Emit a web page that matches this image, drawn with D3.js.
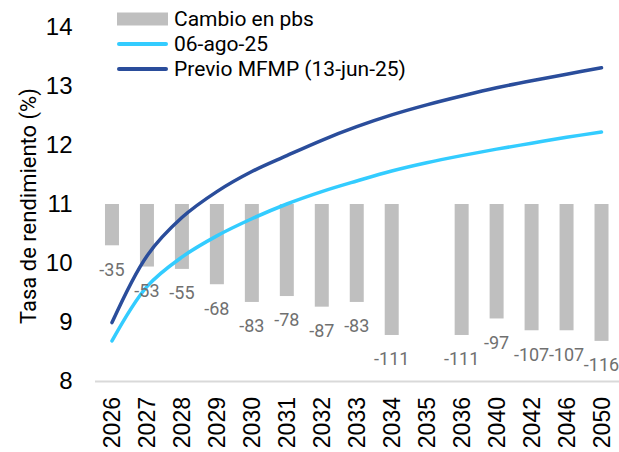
<!DOCTYPE html>
<html>
<head>
<meta charset="utf-8">
<script src="https://cdn.jsdelivr.net/npm/d3@7"></script>
<style>
  body { margin: 0; background: #fff; }
  svg { font-family: Roboto, "Noto Sans", sans-serif; }
</style>
</head>
<body>
<svg id="chart" width="619" height="452"></svg>
<script>
const years = ["2026", "2027", "2028", "2029", "2030", "2031", "2032", "2033",
  "2034", "2035", "2036", "2040", "2042", "2046", "2050"];
const cambio = [-35, -53, -55, -68, -83, -78, -87, -83, -111, null, -111, -97, -107, -107, -116];
const agosto = [8.68, 9.60, 10.10, 10.46, 10.75, 11.00, 11.21, 11.39, 11.56, 11.70, 11.82, 11.93, 12.03, 12.13, 12.22];
const previo = [8.99, 10.12, 10.77, 11.21, 11.55, 11.82, 12.08, 12.31, 12.51, 12.68, 12.83, 12.97, 13.09, 13.20, 13.31];
const yTicks = [8, 9, 10, 11, 12, 13, 14];

const svg = d3.select("#chart");
const margin = { top: 27, right: 0, bottom: 71, left: 94.5 };
const width = 619, height = 452;

const x = d3.scaleBand()
  .domain(years)
  .range([margin.left, width - margin.right])
  .paddingInner(0.6)
  .paddingOuter(0.3);

const y = d3.scaleLinear()
  .domain([8, 14])
  .range([height - margin.bottom, margin.top]);

// secondary axis for the bars (pbs), hidden
const y2 = d3.scaleLinear()
  .domain([-150, 150])
  .range([height - margin.bottom, margin.top]);

const cx = (d) => x(d) + x.bandwidth() / 2;

// y axis labels
const yAxis = (g) => g
  .call(d3.axisLeft(y).tickValues(yTicks).tickFormat(d3.format("d")).tickSize(0).tickPadding(22))
  .call((g) => g.select(".domain").remove())
  .call((g) => g.selectAll("text").attr("font-size", 24).attr("fill", "#000"));

svg.append("g")
  .attr("transform", `translate(${margin.left},0)`)
  .call(yAxis);

// bars
svg.append("g")
  .selectAll("rect")
  .data(years.map((yr, i) => ({ yr, v: cambio[i] })).filter((d) => d.v !== null))
  .join("rect")
  .attr("x", (d) => x(d.yr))
  .attr("width", x.bandwidth())
  .attr("y", y2(0))
  .attr("height", (d) => y2(d.v) - y2(0))
  .attr("fill", "#bfbfbf");

// x axis
const xAxis = (g) => g
  .call(d3.axisBottom(x).tickSize(0).tickPadding(0))
  .call((g) => g.select(".domain").attr("stroke", "#d9d9d9").attr("stroke-width", 2))
  .call((g) => g.selectAll("text")
    .attr("font-size", 23)
    .attr("fill", "#000")
    .attr("text-anchor", "end")
    .attr("dy", "0.35em")
    .attr("transform", "translate(0,16) rotate(-90)"));

svg.append("g")
  .attr("transform", `translate(0,${y(8)})`)
  .call(xAxis);

// lines
const line = d3.line()
  .x((d) => cx(d.yr))
  .y((d) => y(d.v))
  .curve(d3.curveCatmullRom.alpha(0.5));

svg.append("path")
  .datum(years.map((yr, i) => ({ yr, v: agosto[i] })))
  .attr("d", line)
  .attr("fill", "none")
  .attr("stroke", "#33ccff")
  .attr("stroke-width", 3.5)
  .attr("stroke-linecap", "round");

svg.append("path")
  .datum(years.map((yr, i) => ({ yr, v: previo[i] })))
  .attr("d", line)
  .attr("fill", "none")
  .attr("stroke", "#2a4d9b")
  .attr("stroke-width", 3.5)
  .attr("stroke-linecap", "round");

// bar labels
svg.append("g")
  .selectAll("text")
  .data(years.map((yr, i) => ({ yr, v: cambio[i] })).filter((d) => d.v !== null))
  .join("text")
  .attr("x", (d) => cx(d.yr))
  .attr("y", (d) => y2(d.v) + 24)
  .attr("dy", "0.35em")
  .attr("text-anchor", "middle")
  .attr("font-size", 18)
  .attr("fill", "#707070")
  .text((d) => d.v);

// y axis title
svg.append("text")
  .attr("transform", "translate(28,206) rotate(-90)")
  .attr("text-anchor", "middle")
  .attr("dy", "0.35em")
  .attr("font-size", 22)
  .attr("fill", "#000")
  .text("Tasa de rendimiento (%)");

// legend
const legend = [
  { label: "Cambio en pbs", type: "bar", color: "#bfbfbf" },
  { label: "06-ago-25", type: "line", color: "#33ccff" },
  { label: "Previo MFMP (13-jun-25)", type: "line", color: "#2a4d9b" },
];

const lg = svg.append("g").attr("transform", "translate(117,19)");
legend.forEach((d, i) => {
  const row = lg.append("g").attr("transform", `translate(0,${i * 25})`);
  if (d.type === "bar") {
    row.append("rect").attr("x", 0).attr("y", -6.5).attr("width", 51).attr("height", 13).attr("fill", d.color);
  } else {
    row.append("line").attr("x1", 2).attr("x2", 49).attr("y1", 0).attr("y2", 0)
      .attr("stroke", d.color).attr("stroke-width", 4).attr("stroke-linecap", "round");
  }
  row.append("text")
    .attr("x", 57)
    .attr("dy", "0.35em")
    .attr("font-size", 21)
    .attr("fill", "#000")
    .text(d.label);
});
</script>
</body>
</html>
